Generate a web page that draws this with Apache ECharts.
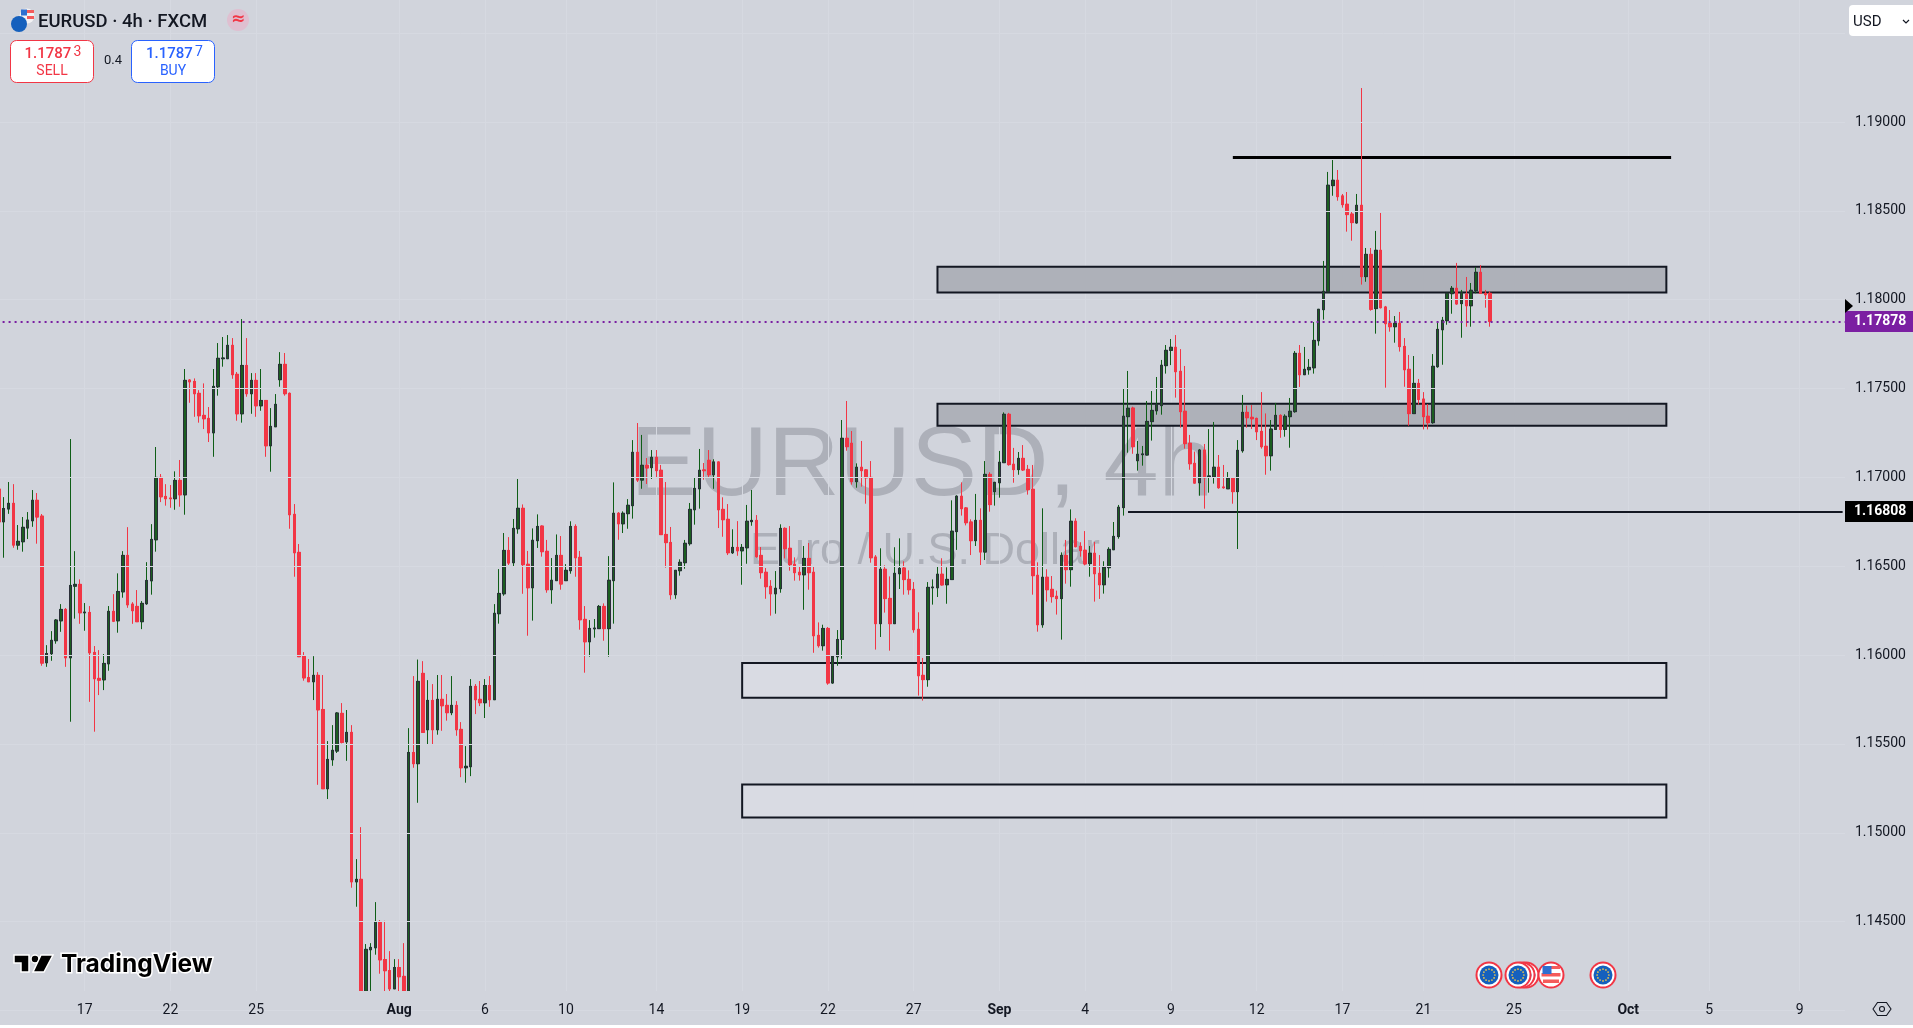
<!DOCTYPE html>
<html>
<head>
<meta charset="utf-8">
<style>html,body{margin:0;padding:0;background:#fff;overflow:hidden}#chart{width:1913px;height:1025px}</style>
<script src="https://cdn.jsdelivr.net/npm/echarts@6/dist/echarts.min.js"></script>
</head>
<body>
<div id="chart"></div>
<script>
// Prices are in points (1 point = 0.00001). Each row is [open, close, low, high].
const julyCandles = [
[116934,116750,116750,116934],[116750,116825,116548,116889],[116822,116854,116795,116974],[116854,116619,116604,116962],[116619,116640,116593,116732],[116638,116719,116582,116777],[116715,116760,116653,116805],[116756,116871,116722,116929],[116871,116777,116627,116912],[116782,115955,115940,116794],
[115957,116009,115934,116056],[116008,116083,115968,116135],[116081,116197,116064,116203],[116193,116257,116131,116287],[116257,115985,115934,116265],[115985,116392,115625,117216],[116388,116398,116205,116585],[116398,116238,116176,116426],[116238,116242,116137,116293],[116240,116013,115737,116276],
[116015,115867,115569,116051],[115869,115859,115775,116028],[115861,115953,115803,116006],[115951,116246,115912,116276],[116246,116191,116186,116343],[116193,116358,116126,116460],[116356,116561,116323,116585],[116561,116283,116266,116720],[116287,116250,116176,116298],[116274,116188,116186,116366],
[116188,116291,116146,116304],[116289,116420,116283,116523],[116418,116651,116340,116737],[116649,117000,116582,117171],[117000,116891,116861,117019],[116893,116880,116841,116962],[116884,116880,116829,116957],[116880,116983,116818,117034],[116983,116902,116835,117098],[116902,117546,116790,117610],
[117548,117538,117420,117553],[117540,117471,117341,117557],[117473,117347,117308,117491],[117349,117330,117272,117529],[117332,117251,117199,117396],[117251,117512,117116,117610],[117510,117670,117460,117756],[117668,117672,117623,117790],[117668,117743,117668,117801],[117743,117578,117555,117784],
[117580,117358,117319,117593],[117358,117630,117308,117891],[117630,117471,117454,117784],[117471,117546,117358,117587],[117546,117403,117341,117587],[117403,117433,117375,117610],[117433,117178,117116,117433],[117178,117287,117032,117390],[117285,117411,117285,117469],[117550,117636,117510,117705],
[117636,117471,117460,117700],[117473,116790,116711,117478],[116792,116576,116441,116850],[116578,115991,115991,116625],[115993,115872,115856,116017],[115874,115850,115850,115978],[115850,115886,115747,115994],[115886,115692,115270,115904],[115694,115248,115248,115888],[115248,115413,115190,115516],
[115411,115464,115377,115606],[115460,115674,115449,115679],[115672,115509,115503,115730],[115512,115565,115405,115691],[115565,114724,114691,115606],[114724,114738,114584,114852],[114738,114060,114000,115032],[114060,114344,114000,114374],[114342,114355,114050,114379],[114353,114501,114314,114610],
[114501,114285,114207,114509],[114287,114224,114050,114505],[114225,114122,114050,114334],[114122,114242,114122,114289]
];
const augustCandles = [
[114242,114190,114060,114289],[114192,114080,114040,114379],[114080,115452,114040,115589],[115452,115389,115366,115882],[115389,115852,115169,115975],[115897,115565,115563,115966],[115580,115745,115499,115859],[115745,115580,115494,115837],[115580,115751,115552,115888],[115751,115715,115574,115888],
[115717,115676,115631,115781],[115676,115717,115662,115882],[115717,115580,115546,115741],[115582,115366,115313,115623],[115366,115374,115282,115488],[115372,115824,115319,115865],[115824,115749,115668,115837],[115751,115732,115713,115854],[115732,115829,115646,115865],[115829,115749,115709,115882],
[115749,116235,115749,116287],[116233,116347,116177,116484],[116345,116589,116334,116687],[116589,116518,116507,116664],[116520,116713,116497,116766],[116711,116826,116683,116991],[116826,116509,116345,116848],[116511,116379,116109,116586],[116379,116646,116194,116713],[116644,116724,116603,116792],
[116726,116582,116554,116730],[116584,116368,116351,116648],[116368,116421,116289,116546],[116419,116561,116419,116679],[116561,116400,116368,116670],[116419,116477,116419,116512],[116475,116724,116458,116753],[116724,116548,116441,116736],[116550,116199,116143,116586],[116201,116075,115901,116276],
[116075,116150,115991,116197],[116148,116152,116098,116203],[116149,116274,116149,116282],[116274,116149,116081,116291],[116149,116421,115991,116557],[116419,116798,116177,116972],[116798,116739,116649,116805],[116739,116798,116687,116809],[116796,116843,116711,116878],[116841,117141,116768,117210],
[117141,116985,116974,117306],[116985,117068,116936,117239],[117068,117053,116963,117109],[117055,117113,116991,117154],[117113,117038,116996,117154],[117040,116678,116678,117070],[116679,116633,116492,116974],[116634,116340,116312,116721],[116340,116477,116317,116477],[116475,116522,116447,116539],
[116520,116629,116486,116648],[116627,116820,116616,116856],[116818,116938,116734,117002],[116936,117040,116824,117160],[117042,117038,116987,117081],[117096,117015,117002,117154],[117015,117087,116936,117102],[117087,116818,116715,117090],[116820,116762,116666,116888],[116764,116576,116563,116850],
[116576,116606,116569,116708],[116606,116587,116559,116754],[116587,116606,116396,116625],[116604,116753,116514,116845],[116751,116758,116728,116929],[116758,116554,116548,116788],[116561,116464,116430,116608],[116466,116385,116317,116490],[116387,116345,116222,116422],[116345,116376,116233,116473],
[116374,116713,116351,116736],[116713,116599,116544,116719],[116601,116509,116475,116726],[116511,116464,116419,116550],[116466,116452,116419,116501],[116452,116544,116255,116614],[116544,116464,116368,116631],[116466,116109,116013,116501],[116111,116053,116042,116184],[116053,116150,116025,116171],
[116150,115843,115833,116158],[115843,115993,115839,116000],[115991,116088,115940,116141],[116088,117220,115980,117323],[117220,117173,117150,117430],[117192,116976,116959,117261],[116976,117057,116942,117079],[117057,117038,116948,117205],[117042,116998,116852,117047],[117000,116548,116520,117092],
[116552,116177,116031,116563],[116177,116483,116102,116601],[116483,116318,116239,116505],[116319,116177,116025,116443],[116177,116460,116177,116607],[116458,116488,116372,116657],[116490,116425,116340,116528],[116426,116368,116340,116477],[116370,116143,116126,116411],[116145,115884,115772,116241],
[115886,115862,115744,115984],[115862,116381,115822,116411],[116379,116383,116284,116426],[116379,116455,116327,116496],[116455,116395,116391,116545],[116396,116426,116289,116494]
];
const septemberCandles = [
[116425,116697,116425,116871],[116695,116894,116592,116899],[116894,116824,116785,116972],[116828,116745,116730,116833],[116749,116644,116563,116764],[116644,116758,116614,116907],[116758,116580,116507,116826],[116580,117017,116535,117092],[117017,116847,116807,117029],[116920,116972,116841,116975],
[116970,117085,116886,117149],[117083,117355,117083,117366],[117355,117072,117066,117363],[117074,117044,116970,117166],[117044,117107,117015,117143],[117107,117042,117036,117182],[117045,116931,116903,117070],[116933,116447,116340,117070],[116449,116171,116132,116522],[116171,116438,116154,116826],
[116438,116368,116301,116483],[116370,116329,116295,116445],[116331,116318,116228,116363],[116318,116561,116087,116578],[116561,116481,116402,116648],[116481,116753,116385,116820],[116753,116610,116607,116770],[116612,116588,116554,116635],[116590,116513,116505,116698],[116515,116573,116441,116614],
[116573,116458,116301,116637],[116460,116396,116316,116563],[116396,116494,116346,116528],[116492,116595,116436,116607],[116593,116668,116593,116749],[116667,116832,116655,116845],[116830,117344,116785,117503],[117342,117389,117139,117599],[117390,117173,117133,117398],[117094,117130,117038,117205],
[117128,117132,117066,117177],[117126,117315,117124,117430],[117314,117377,117207,117486],[117375,117411,117353,117565],[117404,117631,117353,117661],[117629,117715,117584,117745],[117715,117732,117632,117779],[117732,117595,117449,117801],[117597,117370,117280,117722],[117372,117190,117162,117627],
[117192,117077,117043,117239],[117079,116968,116965,117145],[116970,117154,116897,117160],[117154,116998,116824,117188],[117004,117008,116914,117272],[117004,117057,116965,117312],[117057,116942,116936,117126],[116946,116942,116936,117070],[116936,116995,116936,117030],[116995,116920,116852,116995],
[116920,117152,116597,117210],[117150,117366,117139,117464],[117366,117336,117280,117404],[117338,117330,117272,117407],[117332,117257,117210,117336],[117259,117173,117162,117480],[117175,117122,117015,117360],[117122,117272,117038,117323],[117270,117349,117270,117419],[117349,117270,117223,117355],
[117270,117344,117229,117355],[117342,117372,117167,117447],[117370,117698,117364,117711],[117698,117578,117509,117745],[117578,117608,117578,117734],[117606,117619,117578,117666],[117617,117771,117584,117874],[117769,117946,117741,117946],[117944,118047,117888,118218],[118045,118644,118045,118719],
[118642,118672,118585,118786],[118672,118580,118557,118730],[118584,118535,118518,118595],[118537,118479,118383,118606],[118482,118434,118332,118499],[118432,118531,118428,118595],[118531,118130,118085,119191],[118130,118255,118101,118291],[118255,117946,117938,118291],[117950,118278,117809,118387],
[118278,117955,117951,118488],[117959,117865,117505,117965],[117867,117848,117820,117942],[117848,117867,117758,117908],[117867,117736,117708,117931],[117737,117606,117510,117784],[117608,117359,117291,117689],[117359,117529,117359,117683],[117529,117439,117409,117554],[117441,117342,117270,117480],
[117344,117308,117270,117413],[117308,117625,117302,117694],[117623,117833,117617,117874],[117831,117884,117634,117903],[117882,118036,117859,118036],[118034,118064,117921,118077],[118064,117976,117972,118207],[117978,118041,117786,118055],[118032,117966,117848,118128],[117966,118053,117848,118094],
[118051,118154,118036,118182],[118154,118036,118036,118195],[118036,118028,117955,118055],[118036,117878,117848,118047]
];
const tickBars = [18,36,54,84,102,119,138,156,174,192,210,228,246,264,282,299,318,342,359,378];
const tickLabels = ['17','22','25','Aug','6','10','14','19','22','27','Sep','4','9','12','17','21','25','Oct','5','9'];
const monthLabels = ['Aug','Sep','Oct'];
const barSlots = 388;
const yMin = 114000, yMax = 120000, yStep = 500;
const lastPrice = 117878;
const levelPrice = 116808;
const levelStartBar = 237;
const topLinePrice = 118801;
const topLineBars = [259, 351];
// zones: [firstBar, lastBar, upper, lower]
const darkZones = [[197,350,118186,118040],[197,350,117415,117291]];
const lightZones = [[156,350,115955,115760],[156,350,115272,115086]];
// economic events: centre x along the time scale strip
const euEvents = [1489, 1526, 1522, 1518, 1603];
const usEvents = [1551];

const candles = julyCandles.concat(augustCandles, septemberCandles);
const bodies = candles.map(r => [r[0], r[1], Math.min(r[0], r[1]), Math.max(r[0], r[1])]);
const slots = Array.from({length: barSlots}, (_, i) => String(i));
const tickMap = {}; tickBars.forEach((b, i) => tickMap[b] = tickLabels[i]);

const BG = '#d1d4dc', INK = '#131722', RED = '#f23645', WICK_UP = '#0f5e17', BLUE = '#2962ff';
const FONT = 'Roboto, "Noto Sans", sans-serif';

function fmtPrice(v){ return (v / 100000).toFixed(5); }

function euFlag(cx, cy, r){
  const kids = [
    {type:'circle', shape:{cx, cy, r}, style:{fill:'#1560bd'}, z:42}
  ];
  for (let a = 0; a < 12; a++) {
    const t = a * Math.PI / 6;
    kids.push({type:'circle', shape:{cx: cx + Math.cos(t) * r * 0.62, cy: cy + Math.sin(t) * r * 0.62, r: Math.max(0.6, r * 0.09)}, style:{fill:'#f7c948'}, z:43});
  }
  return kids;
}
function eventEU(cx, i){
  const cy = 975;
  return [
    {type:'circle', shape:{cx, cy, r:13.5}, style:{fill:RED}, z:40 + i * 0.01},
    {type:'circle', shape:{cx, cy, r:11.5}, style:{fill:'#fff'}, z:40 + i * 0.01 + 0.001},
    ...euFlag(cx, cy, 9.5).map(k => Object.assign(k, {z:40 + i * 0.01 + 0.002}))
  ];
}
function eventUS(cx){
  const cy = 975, z = 41;
  return [
    {type:'circle', shape:{cx, cy, r:13.5}, style:{fill:RED}, z},
    {type:'circle', shape:{cx, cy, r:11.5}, style:{fill:'#fff'}, z},
    {type:'rect', shape:{x:cx - 7, y:cy - 9, width:16, height:3}, style:{fill:'#f45b5b'}, z},
    {type:'rect', shape:{x:cx - 9.5, y:cy - 2, width:19, height:3.5}, style:{fill:'#f45b5b'}, z},
    {type:'rect', shape:{x:cx - 8, y:cy + 4.5, width:16, height:3.5}, style:{fill:'#f45b5b'}, z},
    {type:'rect', shape:{x:cx - 8.5, y:cy - 9, width:9, height:8}, style:{fill:'#2f6fd0'}, z}
  ];
}

const graphics = [
  // watermark
  {type:'text', z:0, style:{x:922, y:468, text:'EURUSD, 4h', font:'99px "Liberation Sans", Arial, sans-serif', fill:'#adb0b9', textAlign:'center', textVerticalAlign:'middle'}},
  {type:'text', z:0, style:{x:925, y:552, text:'Euro / U.S. Dollar', font:'45px "Liberation Sans", Arial, sans-serif', fill:'#adb0b9', textAlign:'center', textVerticalAlign:'middle'}},
  // strip that hides candles below the pane
  {type:'rect', z:10, shape:{x:0, y:991, width:1913, height:34}, style:{fill:BG}},
  // header
  {type:'circle', z:30, shape:{cx:27, cy:16, r:7.5}, style:{fill:'#f2f2f4'}},
  {type:'rect', z:30, shape:{x:27, y:10, width:7, height:3}, style:{fill:'#f45b5b'}},
  {type:'rect', z:30, shape:{x:27, y:16, width:7, height:3}, style:{fill:'#f45b5b'}},
  {type:'rect', z:30, shape:{x:21, y:9.5, width:6, height:6}, style:{fill:'#2f6fd0'}},
  {type:'circle', z:31, shape:{cx:19, cy:24, r:8}, style:{fill:'#1560bd'}},
  {type:'text', z:30, style:{x:38, y:22.5, text:'EURUSD · 4h · FXCM', font:'500 18.5px ' + FONT, fill:INK, textVerticalAlign:'middle'}},
  {type:'circle', z:30, shape:{cx:238, cy:20, r:11}, style:{fill:'#dfbfd0'}},
  {type:'text', z:31, style:{x:238, y:20, text:'≈', font:'bold 17px "DejaVu Sans"', fill:RED, textAlign:'center', textVerticalAlign:'middle'}},
  {type:'rect', z:30, shape:{x:10.5, y:40.5, width:83, height:42, r:6}, style:{fill:'#fff', stroke:RED, lineWidth:1}},
  {type:'text', z:31, style:{x:24.5, y:54.5, text:'1.1787', font:'500 15px ' + FONT, fill:RED, textVerticalAlign:'middle'}},
  {type:'text', z:31, style:{x:73.5, y:52.5, text:'3', font:'14px ' + FONT, fill:RED, textVerticalAlign:'middle'}},
  {type:'text', z:31, style:{x:52, y:71.5, text:'SELL', font:'14px ' + FONT, fill:RED, textAlign:'center', textVerticalAlign:'middle'}},
  {type:'text', z:30, style:{x:113, y:61, text:'0.4', font:'13px ' + FONT, fill:INK, textAlign:'center', textVerticalAlign:'middle'}},
  {type:'rect', z:30, shape:{x:131.5, y:40.5, width:83, height:42, r:6}, style:{fill:'#fff', stroke:BLUE, lineWidth:1}},
  {type:'text', z:31, style:{x:146, y:54.5, text:'1.1787', font:'500 15px ' + FONT, fill:BLUE, textVerticalAlign:'middle'}},
  {type:'text', z:31, style:{x:195, y:52.5, text:'7', font:'14px ' + FONT, fill:BLUE, textVerticalAlign:'middle'}},
  {type:'text', z:31, style:{x:173, y:71.5, text:'BUY', font:'14px ' + FONT, fill:BLUE, textAlign:'center', textVerticalAlign:'middle'}},
  // currency button
  {type:'rect', z:30, shape:{x:1849, y:5, width:70, height:31, r:4}, style:{fill:'#fff'}},
  {type:'text', z:31, style:{x:1853, y:22, text:'USD', font:'15px ' + FONT, fill:INK, textVerticalAlign:'middle'}},
  {type:'polyline', z:31, shape:{points:[[1903,20],[1906,23],[1909,20]]}, style:{stroke:INK, lineWidth:1.2, fill:'none'}},
  // last-price pointer
  {type:'polygon', z:30, shape:{points:[[1845,299],[1853,306],[1845,313]]}, style:{fill:'#000'}},
  // logo
  {type:'polygon', z:30, shape:{points:[[14,955],[29,955],[29,972],[21,972],[21,963],[14,963]]}, style:{fill:'#000', stroke:'#fff', lineWidth:1.5}},
  {type:'circle', z:30, shape:{cx:35, cy:959, r:4}, style:{fill:'#000', stroke:'#fff', lineWidth:1.5}},
  {type:'polygon', z:30, shape:{points:[[41,955],[53,955],[44,972],[33,972]]}, style:{fill:'#000', stroke:'#fff', lineWidth:1.5}},
  {type:'text', z:30, style:{x:61, y:965, text:'TradingView', font:'700 24.5px Inter, Roboto, sans-serif', fill:'#000', stroke:'#fff', lineWidth:3, textVerticalAlign:'middle'}},
  // settings hexagon on the time scale
  {type:'polygon', z:30, shape:{points:[[1873,1009],[1877.5,1002.5],[1886.5,1002.5],[1891,1009],[1886.5,1015.5],[1877.5,1015.5]]}, style:{fill:'none', stroke:INK, lineWidth:1.1}},
  {type:'circle', z:30, shape:{cx:1882, cy:1009, r:2.5}, style:{fill:'none', stroke:INK, lineWidth:1.1}}
];
euEvents.forEach((x, i) => graphics.push(...eventEU(x, i)));
usEvents.forEach(x => graphics.push(...eventUS(x)));

const zoneArea = (z, fill) => [{xAxis:String(z[0]), yAxis:z[2], itemStyle:{color:fill, borderColor:INK, borderWidth:2}}, {xAxis:String(z[1]), yAxis:z[3]}];
const endLabel = (bg) => ({show:true, position:'end', distance:0, formatter:p => fmtPrice(p.value), color:'#fff', backgroundColor:bg, opacity:1, fontFamily:FONT, fontWeight:'bold', fontSize:14, lineHeight:15, padding:[4,5,2,9], width:54, align:'left'});

const option = {
  backgroundColor: BG,
  animation: false,
  graphic: graphics,
  grid: {left:-3.4, top:-55.7, width:1848.4, height:1066.2, outerBoundsMode:'none', containLabel:false},
  xAxis: [
    {type:'category', position:'bottom', data:slots, axisLine:{show:false}, axisTick:{show:false}, axisLabel:{show:false},
     splitLine:{show:true, alignWithLabel:true, interval:(i, v) => tickMap[v] !== undefined, lineStyle:{color:'#d6d9e1', width:1}}},
    {type:'category', position:'bottom', data:slots, z:20, axisLine:{show:false}, axisTick:{show:false}, splitLine:{show:false},
     axisLabel:{show:true, margin:-0.5, verticalAlign:'middle', hideOverlap:false, interval:(i, v) => tickMap[v] !== undefined,
       formatter:v => { const t = tickMap[v]; return t === undefined ? '' : (monthLabels.includes(t) ? '{b|' + t + '}' : t); },
       fontFamily:FONT, fontSize:14, color:INK, rich:{b:{fontFamily:FONT, fontSize:14, fontWeight:'bold', color:INK}}}}
  ],
  yAxis: {type:'value', position:'right', min:yMin, max:yMax, interval:yStep, z:20,
    axisLine:{show:false}, axisTick:{show:false},
    splitLine:{show:true, lineStyle:{color:'#d6d9e1', width:1}},
    axisLabel:{margin:10, padding:[2,0,0,0], fontFamily:FONT, fontSize:14, color:INK, showMinLabel:false, showMaxLabel:false,
      formatter:v => (v < 114500 || v > 119000) ? '' : fmtPrice(v)}},
  series: [
    {type:'candlestick', name:'EURUSD', data:candles, barWidth:3, z:2,
     itemStyle:{color:WICK_UP, color0:RED, borderColor:WICK_UP, borderColor0:RED, borderWidth:1},
     markArea:{silent:true, z:1, data: darkZones.map(z => zoneArea(z, '#aeb1b9')).concat(lightZones.map(z => zoneArea(z, '#d9dbe3')))},
     markLine:{silent:true, symbol:'none', z:1, precision:5, data:[
       [{xAxis:String(topLineBars[0]), yAxis:topLinePrice, lineStyle:{color:'#000', width:3, type:'solid'}, label:{show:false}}, {xAxis:String(topLineBars[1]), yAxis:topLinePrice}],
       [{xAxis:String(levelStartBar), yAxis:levelPrice, lineStyle:{color:INK, width:2, type:'solid'}, label:{show:false}}, {xAxis:String(barSlots - 1), yAxis:levelPrice}]
     ]}},
    {type:'candlestick', name:'bodies', data:bodies, barWidth:3, z:3,
     itemStyle:{color:'#1b5e20', color0:RED, borderColor:'#2a2e39', borderColor0:RED, borderWidth:1},
     markLine:{silent:true, symbol:'none', z:5, precision:5, data:[
       {yAxis:lastPrice, lineStyle:{color:'#7b1fa2', width:2, type:[2,4]}, label:endLabel('#7b1fa2')},
       {yAxis:levelPrice, lineStyle:{color:'rgba(0,0,0,0)', width:1}, label:endLabel('#000')}
     ]}}
  ]
};
const chart = echarts.init(document.getElementById('chart'));
chart.setOption(option);
</script>
</body>
</html>
